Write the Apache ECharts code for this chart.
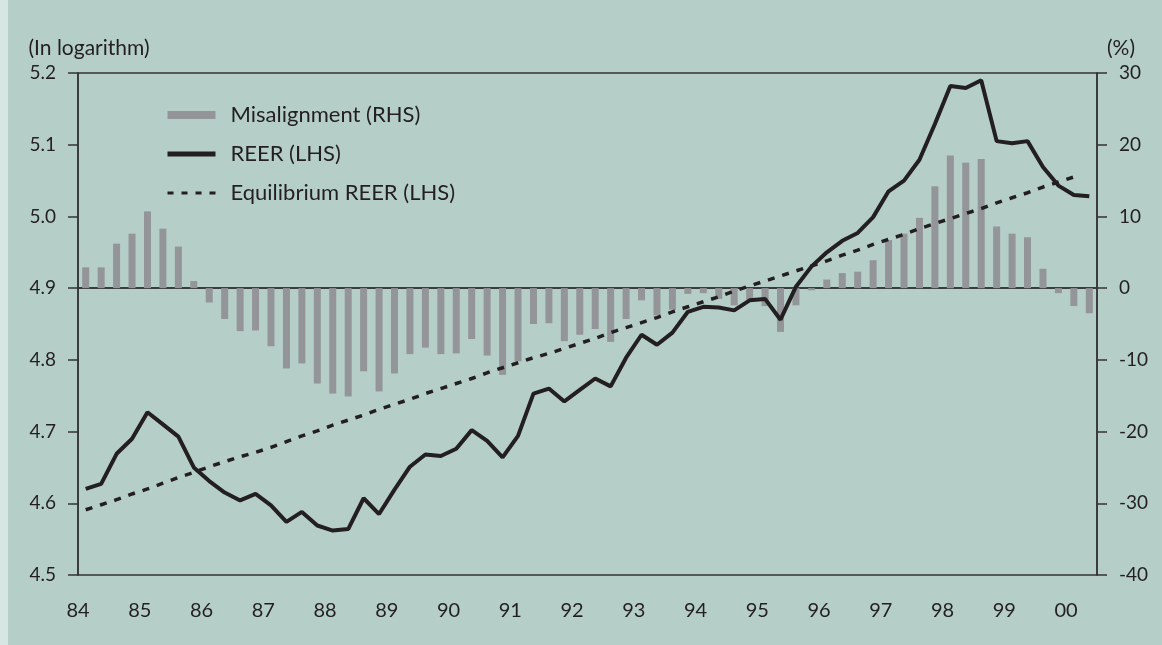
<!DOCTYPE html>
<html>
<head>
<meta charset="utf-8">
<script src="https://cdn.jsdelivr.net/npm/echarts@6/dist/echarts.min.js"></script>
<style>
  html, body { margin: 0; padding: 0; background: #b5cfc8; }
  #chart { width: 1162px; height: 645px; }
</style>
</head>
<body>
<div id="chart"></div>
<script>
// quarterly, 84Q1 .. 00Q2
const quarters = [];
for (let y = 1984; y <= 2000; y++) {
  for (let q = 1; q <= 4; q++) {
    if (y === 2000 && q > 2) break;
    quarters.push(String(y).slice(2) + 'Q' + q);
  }
}
const yearLabels = ['84', '85', '86', '87', '88', '89', '90', '91', '92', '93', '94', '95', '96', '97', '98', '99', '00'];

// misalignment, % (RHS)
const misalignment = [
  2.9, 2.9, 6.2, 7.6, 10.7, 8.3, 5.8, 1.0,
  -2.0, -4.3, -6.0, -5.9, -8.1, -11.2, -10.5, -13.3,
  -14.7, -15.1, -11.6, -14.4, -11.9, -9.2, -8.3, -9.2,
  -9.1, -7.1, -9.4, -12.1, -10.2, -5.0, -4.9, -7.4,
  -6.5, -5.7, -7.5, -4.3, -1.7, -3.8, -3.0, -0.8,
  -0.7, -1.5, -2.4, -1.6, -2.5, -6.1, -2.4, -0.3,
  1.2, 2.1, 2.3, 3.9, 6.7, 7.6, 9.8, 14.2,
  18.5, 17.5, 18.0, 8.6, 7.6, 7.1, 2.7, -0.7,
  -2.5, -3.5
];

// REER, log (LHS)
const reer = [
  4.620, 4.627, 4.669, 4.690, 4.727, 4.710, 4.693, 4.650,
  4.631, 4.615, 4.604, 4.613, 4.597, 4.574, 4.588, 4.569,
  4.562, 4.564, 4.607, 4.585, 4.619, 4.651, 4.668, 4.666,
  4.676, 4.702, 4.687, 4.664, 4.694, 4.753, 4.760, 4.742,
  4.758, 4.774, 4.763, 4.803, 4.835, 4.821, 4.838, 4.867,
  4.874, 4.873, 4.869, 4.883, 4.885, 4.856, 4.902, 4.930,
  4.950, 4.966, 4.977, 4.999, 5.035, 5.050, 5.079, 5.129,
  5.182, 5.179, 5.190, 5.105, 5.102, 5.105, 5.069, 5.043,
  5.030, 5.028
];

// equilibrium REER, log (LHS)
const equilibrium = [
  4.591, 4.598, 4.605, 4.613, 4.620, 4.628, 4.636, 4.643,
  4.651, 4.658, 4.665, 4.671, 4.678, 4.686, 4.694, 4.701,
  4.709, 4.716, 4.723, 4.731, 4.738, 4.745, 4.753, 4.760,
  4.767, 4.774, 4.782, 4.789, 4.796, 4.803, 4.809, 4.816,
  4.823, 4.830, 4.838, 4.845, 4.852, 4.859, 4.867, 4.874,
  4.881, 4.888, 4.896, 4.903, 4.910, 4.917, 4.924, 4.931,
  4.938, 4.946, 4.953, 4.961, 4.968, 4.975, 4.983, 4.990,
  4.997, 5.004, 5.011, 5.019, 5.026, 5.033, 5.041, 5.048,
  5.055, null
];

const FONT = 'Lato';
const INK = '#231f20';
const AXIS = '#333333';

const chart = echarts.init(document.getElementById('chart'));

const option = {
  backgroundColor: '#b5cfc8',
  animation: false,
  textStyle: { fontFamily: FONT, color: INK },
  graphic: [{
    type: 'rect', left: 0, top: 0, z: -10,
    shape: { width: 8, height: 645 },
    style: { fill: '#d6e6e2' }
  }],
  grid: {
    left: 78, right: 65, top: 73, bottom: 70,
    show: true, borderColor: AXIS, borderWidth: 1.5, backgroundColor: 'transparent'
  },
  legend: {
    orient: 'vertical',
    left: 160, top: 99,
    itemWidth: 48, itemHeight: 8,
    itemGap: 17,
    textStyle: { fontFamily: FONT, fontSize: 22, color: INK, padding: [0, 0, 0, 10] },
    data: [
      { name: 'Misalignment (RHS)', icon: 'rect' },
      {
        name: 'REER (LHS)',
        itemStyle: { opacity: 0 },
        lineStyle: { width: 5, color: INK }
      },
      {
        name: 'Equilibrium REER (LHS)',
        itemStyle: { opacity: 0 },
        lineStyle: { width: 3, color: INK, type: [6, 8] }
      }
    ]
  },
  xAxis: [{
    type: 'category',
    data: quarters,
    boundaryGap: true,
    axisLine: { lineStyle: { color: AXIS, width: 1.5 } },
    axisTick: { interval: 3, length: 10, inside: false, lineStyle: { color: AXIS, width: 1.5 } },
    axisLabel: { show: false },
    splitLine: { show: false }
  }, {
    type: 'value',
    position: 'bottom',
    min: 0, max: quarters.length, interval: 4,
    axisLine: { show: false },
    axisTick: { show: false },
    splitLine: { show: false },
    axisLabel: {
      margin: 26, fontSize: 20, color: INK, fontFamily: FONT,
      showMaxLabel: false,
      formatter: v => yearLabels[v / 4] || ''
    }
  }],
  yAxis: [{
    type: 'value',
    min: 4.5, max: 5.2, interval: 0.1,
    name: '(In logarithm)',
    nameGap: 14,
    nameTextStyle: { fontFamily: FONT, fontSize: 21, color: INK, padding: [0, 0, 0, 22] },
    axisLine: { show: true, lineStyle: { color: AXIS, width: 1.5 } },
    axisTick: { show: true, length: 10, lineStyle: { color: AXIS, width: 1.5 } },
    axisLabel: { margin: 22, fontSize: 19, color: INK, fontFamily: FONT, formatter: v => v.toFixed(1) },
    splitLine: { show: false }
  }, {
    type: 'value',
    min: -40, max: 30, interval: 10,
    name: '(%)',
    nameGap: 14,
    nameTextStyle: { fontFamily: FONT, fontSize: 21, color: INK, align: 'left', padding: [0, 0, 0, 10] },
    axisLine: { show: true, lineStyle: { color: AXIS, width: 1.5 } },
    axisTick: { show: true, length: 10, lineStyle: { color: AXIS, width: 1.5 } },
    axisLabel: { margin: 22, fontSize: 19, color: INK, fontFamily: FONT },
    splitLine: { show: false }
  }],
  series: [{
    name: 'Misalignment (RHS)',
    type: 'bar',
    xAxisIndex: 0,
    yAxisIndex: 1,
    barWidth: 7,
    itemStyle: { color: '#939598' },
    data: misalignment,
    z: 2
  }, {
    name: 'REER (LHS)',
    type: 'line',
    xAxisIndex: 0,
    yAxisIndex: 0,
    symbol: 'none',
    lineStyle: { color: INK, width: 4 },
    itemStyle: { color: INK },
    data: reer,
    z: 4,
    markLine: {
      silent: true,
      symbol: 'none',
      label: { show: false },
      lineStyle: { color: AXIS, width: 1.5, type: 'solid' },
      data: [{ yAxis: 4.9 }],
      z: 1
    }
  }, {
    name: 'Equilibrium REER (LHS)',
    type: 'line',
    xAxisIndex: 0,
    yAxisIndex: 0,
    symbol: 'none',
    lineStyle: { color: INK, width: 3.5, type: [7, 8] },
    itemStyle: { color: INK },
    data: equilibrium,
    z: 3
  }]
};

chart.setOption(option);
</script>
</body>
</html>
